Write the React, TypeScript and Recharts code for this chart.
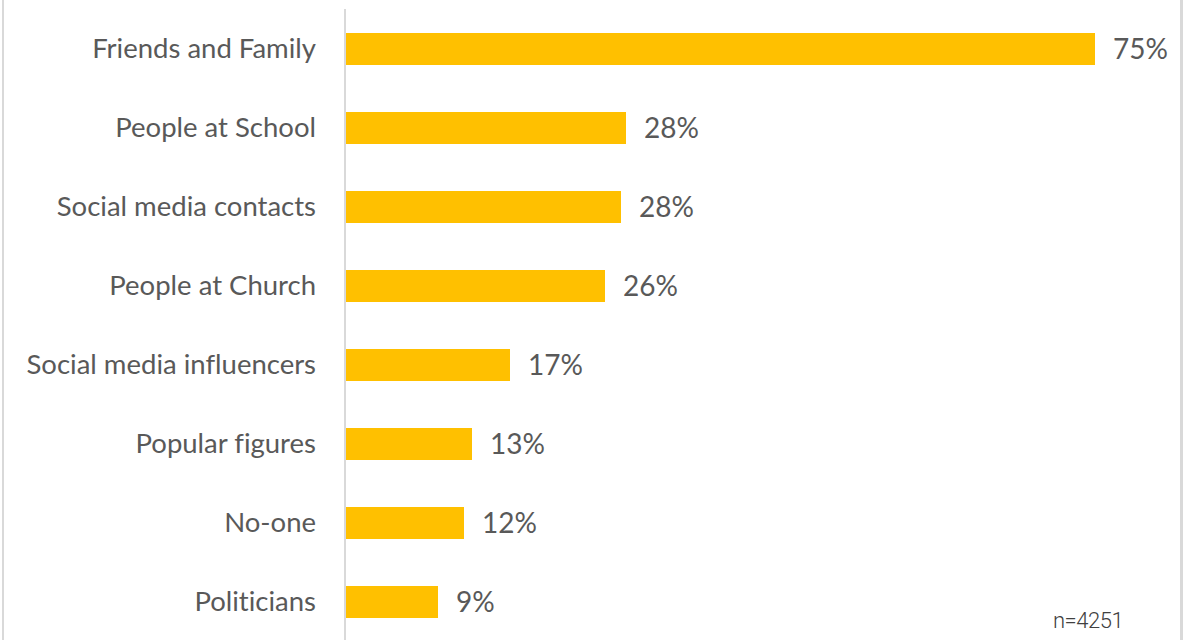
import { BarChart, Bar, XAxis, YAxis, LabelList } from 'recharts'

const categories = [
  'Friends and Family',
  'People at School',
  'Social media contacts',
  'People at Church',
  'Social media influencers',
  'Popular figures',
  'No-one',
  'Politicians',
]

// share of respondents, %
const shares = [75, 28.1, 27.6, 26.0, 16.5, 12.7, 11.9, 9.3]

const sampleNote = 'n=4251'

const data = categories.map((name, i) => ({ name, value: shares[i] }))

const textGrey = '#595959'
const barColor = '#FFC000'
const fontStack = 'Lato, "Open Sans", sans-serif'

export default function App() {
  return (
    <div
      style={{
        position: 'absolute',
        left: 0,
        top: 0,
        width: 1191,
        height: 640,
        background: '#fff',
        overflow: 'hidden',
        fontVariantLigatures: 'none',
      }}
    >
      <div style={{ position: 'absolute', left: 2, top: 0, width: 2, height: 640, background: '#d9d9d9' }} />
      <div style={{ position: 'absolute', left: 1180, top: 0, width: 3, height: 640, background: '#d9d9d9' }} />
      <BarChart
        width={1191}
        height={640}
        data={data}
        layout="vertical"
        margin={{ top: 9, right: 46, bottom: -1, left: 0 }}
      >
        <XAxis type="number" domain={[0, 80]} hide />
        <YAxis
          type="category"
          dataKey="name"
          width={345}
          tickLine={false}
          tickMargin={23}
          axisLine={{ stroke: '#d9d9d9', strokeWidth: 2 }}
          tick={{ fill: textGrey, fontSize: 27.5, fontFamily: fontStack }}
          interval={0}
        />
        <Bar dataKey="value" fill={barColor} barSize={32} isAnimationActive={false}>
          <LabelList
            dataKey="value"
            position="right"
            offset={18}
            formatter={(v: number) => `${Math.round(v)}%`}
            style={{ fill: textGrey, fontSize: 28, fontFamily: fontStack }}
          />
        </Bar>
      </BarChart>
      <div
        style={{
          position: 'absolute',
          left: 1053,
          top: 608,
          fontFamily: 'Roboto, sans-serif',
          fontWeight: 300,
          fontSize: 22,
          color: '#404040',
          letterSpacing: -0.5,
        }}
      >
        {sampleNote}
      </div>
    </div>
  )
}
